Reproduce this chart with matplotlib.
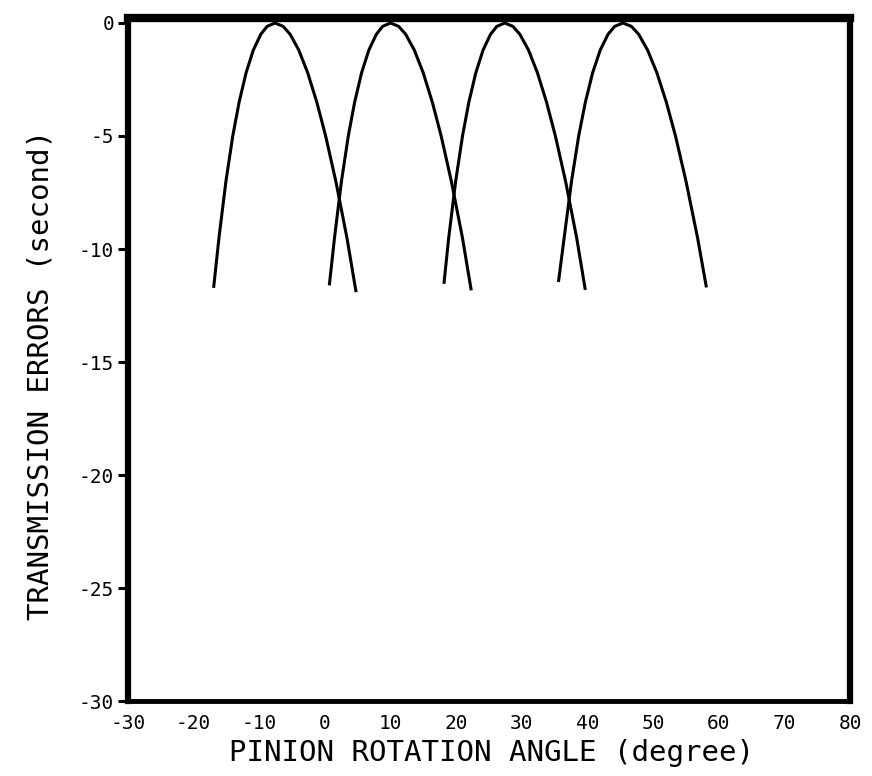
# standard libraries

# non-standard libraries
import matplotlib
matplotlib.use("Agg")
import matplotlib.pyplot as plt

# points (degree, second)
curve1_x = [-16.96, -16.14, -15.08, -14.04, -13.07, -12.01, -10.91, -9.77, -8.81, -7.60,
            -6.36, -5.30, -3.98, -2.63, -1.24, 0.11, 1.66, 3.35, 4.75]
curve1_y = [-11.72, -9.5, -7.0, -5.0, -3.5, -2.2, -1.2, -0.5, -0.15, 0.0,
            -0.15, -0.5, -1.2, -2.2, -3.5, -5.0, -7.0, -9.5, -11.91]

curve2_x = [0.67, 1.46, 2.52, 3.56, 4.53, 5.59, 6.69, 7.83, 8.79, 10.00,
            11.24, 12.30, 13.62, 14.97, 16.36, 17.71, 19.26, 20.95, 22.29]
curve2_y = [-11.61, -9.5, -7.0, -5.0, -3.5, -2.2, -1.2, -0.5, -0.15, 0.0,
            -0.15, -0.5, -1.2, -2.2, -3.5, -5.0, -7.0, -9.5, -11.83]

curve3_x = [18.13, 18.86, 19.92, 20.96, 21.93, 22.99, 24.09, 25.23, 26.19, 27.40,
            28.64, 29.70, 31.02, 32.37, 33.76, 35.11, 36.66, 38.35, 39.67]
curve3_y = [-11.54, -9.5, -7.0, -5.0, -3.5, -2.2, -1.2, -0.5, -0.15, 0.0,
            -0.15, -0.5, -1.2, -2.2, -3.5, -5.0, -7.0, -9.5, -11.81]

curve4_x = [35.58, 36.45, 37.57, 38.66, 39.68, 40.79, 41.94, 43.13, 44.14, 45.40,
            46.70, 47.80, 49.16, 50.57, 52.01, 53.41, 55.01, 56.77, 58.12]
curve4_y = [-11.46, -9.5, -7.0, -5.0, -3.5, -2.2, -1.2, -0.5, -0.15, 0.0,
            -0.15, -0.5, -1.2, -2.2, -3.5, -5.0, -7.0, -9.5, -11.70]

x_ticks = [-30, -20, -10, 0, 10, 20, 30, 40, 50, 60, 70, 80]
y_ticks = [0, -5, -10, -15, -20, -25, -30]

FONT = "DejaVu Sans Mono"


def main():
    fig = plt.figure(figsize=(8.72, 7.76), dpi=100)
    ax = fig.add_axes([0.1468, 0.0966, 0.828, 0.8796])

    for xs, ys in [(curve1_x, curve1_y), (curve2_x, curve2_y),
                   (curve3_x, curve3_y), (curve4_x, curve4_y)]:
        ax.plot(xs, ys, '-', color='black', lw=2.2, solid_capstyle='butt',
                solid_joinstyle='round', clip_on=False)

    ax.set_xlim(-30, 80)
    ax.set_ylim(-30, 0.2)

    ax.set_xticks(x_ticks)
    ax.set_xticklabels([str(t) for t in x_ticks], fontfamily=FONT, fontsize=14)
    ax.set_yticks(y_ticks)
    ax.set_yticklabels([str(t) for t in y_ticks], fontfamily=FONT, fontsize=14)
    ax.tick_params(axis='x', length=0, pad=9)
    ax.tick_params(axis='y', length=7, width=2.2, pad=3, direction='out')

    ax.spines['top'].set_linewidth(6)
    ax.spines['left'].set_linewidth(4.5)
    ax.spines['right'].set_linewidth(4.5)
    ax.spines['bottom'].set_linewidth(3.5)

    fig.text(0.0459, 0.5168, "TRANSMISSION ERRORS (second)", rotation=90,
             ha='center', va='center', fontfamily=FONT, fontsize=21)
    fig.text(0.564, 0.0296, "PINION ROTATION ANGLE (degree)",
             ha='center', va='center', fontfamily=FONT, fontsize=21)

    fig.savefig("out.png", dpi=100)


if __name__ == "__main__": main()
